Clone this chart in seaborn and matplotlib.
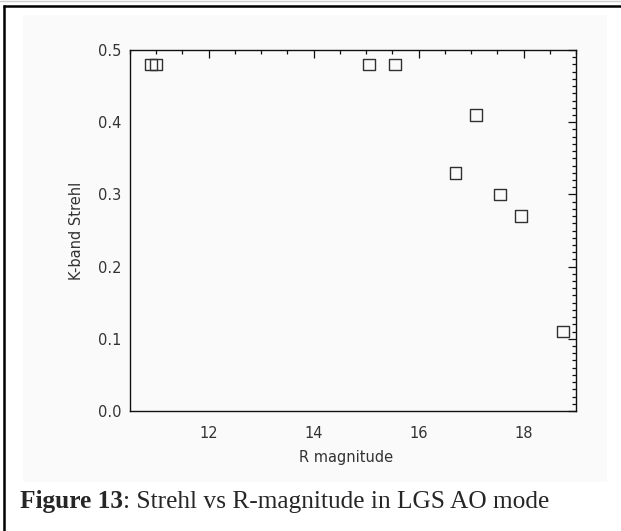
import matplotlib
matplotlib.use("Agg")
import matplotlib.pyplot as plt
import matplotlib.patches as mpatches
from matplotlib.lines import Line2D
from matplotlib.ticker import MultipleLocator, FormatStrFormatter
import seaborn as sns
import pandas as pd

# ---- data ----
r_magnitude = [10.9, 11.0, 15.05, 15.55, 16.7, 17.1, 17.55, 17.95, 18.75]
k_strehl = [0.48, 0.48, 0.48, 0.48, 0.33, 0.41, 0.30, 0.27, 0.11]
x_label = "R magnitude"
y_label = "K-band Strehl"
caption_bold = "Figure 13"
caption_rest = ": Strehl vs R-magnitude in LGS AO mode"

df = pd.DataFrame({"R": r_magnitude, "S": k_strehl})

sns.set_style("white")
plt.rcParams["font.family"] = ["DejaVu Sans"]

W, H = 621, 531
fig = plt.figure(figsize=(W / 100, H / 100), dpi=100)
fig.patch.set_facecolor("white")

# light background of embedded plot image
fig.patches.append(mpatches.Rectangle((23 / W, 1 - 482 / H), (607 - 23) / W, (482 - 15) / H,
                                      transform=fig.transFigure, facecolor="#fafafa",
                                      edgecolor="none", zorder=-5))
# outer frame (left and top edges visible)
fig.lines.append(Line2D([4 / W, 4 / W], [0, 1 - 5 / H], transform=fig.transFigure,
                        color="black", lw=1.8, solid_capstyle="butt", zorder=-4))
fig.lines.append(Line2D([3 / W, 1], [1 - 6 / H, 1 - 6 / H], transform=fig.transFigure,
                        color="black", lw=1.8, solid_capstyle="butt", zorder=-4))
fig.lines.append(Line2D([0, 1], [1 - 1 / H, 1 - 1 / H], transform=fig.transFigure,
                        color="#cccccc", lw=1.0, zorder=-4))

ax = fig.add_axes([130 / W, 1 - 411 / H, (576 - 130) / W, (411 - 50) / H])
ax.set_zorder(2)
ax.set_facecolor("#fafafa")

sns.scatterplot(data=df, x="R", y="S", marker="s", s=70, facecolors="none",
                edgecolor="#303030", linewidth=1.0, ax=ax, zorder=3, clip_on=False)

ax.set_xlim(10.5, 19.0)
ax.set_ylim(0.0, 0.5)
ax.xaxis.set_major_locator(MultipleLocator(2))
ax.xaxis.set_minor_locator(MultipleLocator(0.5))
ax.yaxis.set_major_locator(MultipleLocator(0.1))
ax.yaxis.set_minor_locator(MultipleLocator(0.01))
ax.yaxis.set_major_formatter(FormatStrFormatter("%.1f"))
ax.xaxis.set_major_formatter(FormatStrFormatter("%d"))

for sp in ax.spines.values():
    sp.set_visible(True)
    sp.set_color("#111111")
    sp.set_linewidth(1.0)

ax.tick_params(which="both", direction="in", top=True, right=True, colors="#111111",
               labelcolor="#333333", labelsize=10.5, width=0.9)
ax.tick_params(which="major", length=6)
ax.tick_params(which="minor", length=3)
ax.tick_params(axis="x", which="major", pad=11)
ax.tick_params(axis="y", which="major", pad=6)

ax.set_xlabel(x_label, fontsize=10.5, color="#333333")
ax.set_ylabel(y_label, fontsize=10.5, color="#333333")
ax.xaxis.set_label_coords((346 - 130) / 446, -(450 - 411) / 361)
ax.yaxis.set_label_coords((84 - 130) / 446, 0.5)

t1 = fig.text(20 / W, 1 - 508 / H, caption_bold, fontsize=18.3, fontweight="bold",
              family=["Liberation Serif"], ha="left", va="baseline")
ax.annotate(caption_rest, xy=(1, 0), xycoords=t1, xytext=(0, 0), textcoords="offset points",
            fontsize=18.3, family=["Liberation Serif"], ha="left", va="bottom",
            annotation_clip=False)

fig.savefig("out.png", dpi=100, facecolor="white")
